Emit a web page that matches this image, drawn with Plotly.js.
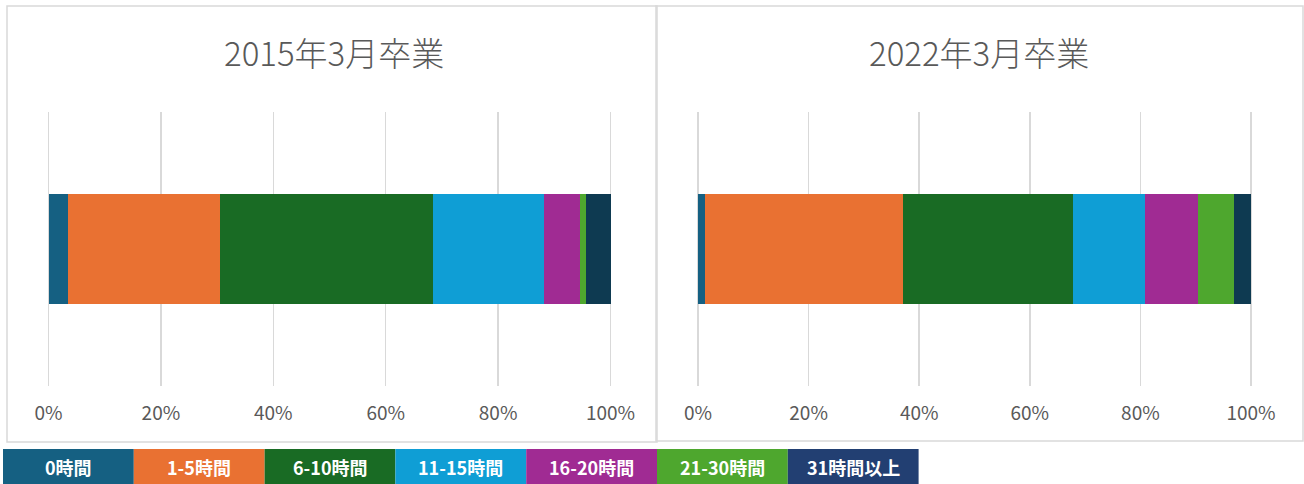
<!DOCTYPE html>
<html>
<head>
<meta charset="utf-8">
<script src="https://cdn.plot.ly/plotly-3.0.1.min.js"></script>
<style>
html,body{margin:0;padding:0;background:#fff;}
#chart{width:1304px;height:484px;}
</style>
</head>
<body>
<div id="chart"></div>
<script>
// ---- data ----
const categories = ["0時間", "1-5時間", "6-10時間", "11-15時間", "16-20時間", "21-30時間", "31時間以上"];
const panelTitles = ["2015年3月卒業", "2022年3月卒業"];
const values2015 = [3.4, 27.2, 37.8, 19.7, 6.4, 1.1, 4.4];
const values2022 = [1.2, 35.9, 30.8, 13.0, 9.5, 6.5, 3.1];
const tickValues = [0, 20, 40, 60, 80, 100];
const tickLabels = ["0%", "20%", "40%", "60%", "80%", "100%"];

// ---- styles ----
const barColors = ["#156082", "#E97132", "#196B24", "#0F9ED5", "#A02B93", "#4EA72E", "#0E3A51"];
const legendColors = ["#156082", "#E97132", "#196B24", "#0F9ED5", "#A02B93", "#4EA72E", "#223F72"];
const W = 1304, H = 484;
const px = v => v / W;
const py = v => 1 - v / H;

const traces = [];
[values2015, values2022].forEach((vals, pi) => {
  categories.forEach((c, i) => {
    traces.push({
      type: "bar",
      orientation: "h",
      name: c,
      x: [vals[i]],
      y: [0],
      width: 0.4,
      marker: {color: barColors[i], line: {width: 0}},
      xaxis: pi === 0 ? "x" : "x2",
      yaxis: pi === 0 ? "y" : "y2",
      showlegend: false,
      hoverinfo: "name+x"
    });
  });
});

const pad = 0.5; // small range padding so the 0% and 100% gridlines are drawn
const axisCommon = {
  range: [-pad, 100 + pad],
  tickvals: tickValues,
  ticktext: tickLabels,
  showgrid: true,
  gridcolor: "#d9d9d9",
  gridwidth: 1.5,
  zeroline: false,
  showline: false,
  ticks: "",
  ticklabelstandoff: 14,
  tickfont: {family: "Liberation Sans Narrow, Noto Sans CJK JP, sans-serif", size: 19, color: "#595959"},
  fixedrange: true
};
const yCommon = {range: [-0.5, 0.5], visible: false, showgrid: false, zeroline: false, fixedrange: true};

function dom(a, b) { // pixel positions of 0% and 100%
  const k = (b - a) / 100;
  return [px(a - pad * k), px(b + pad * k)];
}

const plotTop = 112, plotBottom = 386;
const layout = {
  width: W, height: H,
  margin: {l: 0, r: 0, t: 0, b: 0},
  paper_bgcolor: "#ffffff",
  plot_bgcolor: "rgba(0,0,0,0)",
  barmode: "stack",
  showlegend: false,
  xaxis: Object.assign({}, axisCommon, {domain: dom(48.5, 610.5), anchor: "y"}),
  yaxis: Object.assign({}, yCommon, {domain: [py(plotBottom), py(plotTop)], anchor: "x"}),
  xaxis2: Object.assign({}, axisCommon, {domain: dom(698, 1251), anchor: "y2"}),
  yaxis2: Object.assign({}, yCommon, {domain: [py(plotBottom), py(plotTop)], anchor: "x2"}),
  shapes: [],
  annotations: []
};

// panel borders
const panels = [[7, 6, 657, 442], [656, 6, 1303, 441]];
panels.forEach(p => {
  layout.shapes.push({
    type: "rect", xref: "paper", yref: "paper", layer: "below",
    x0: px(p[0]), x1: px(p[2]), y0: py(p[3]), y1: py(p[1]),
    line: {color: "#d9d9d9", width: 1.5}, fillcolor: "rgba(0,0,0,0)"
  });
});

// panel titles
const titleCenters = [334, 979];
panelTitles.forEach((t, i) => {
  layout.annotations.push({
    text: t, xref: "paper", yref: "paper",
    x: px(titleCenters[i]), y: py(52), xanchor: "center", yanchor: "middle",
    showarrow: false,
    font: {family: "Noto Sans CJK JP, sans-serif", size: 33, weight: 300, color: "#595959"}
  });
});

// legend boxes (drawn as a row of coloured cells)
const legLeft = 3, legW = 130.8, legTop = 449, legBottom = 484;
categories.forEach((c, i) => {
  const x0 = legLeft + i * legW, x1 = x0 + legW;
  layout.shapes.push({
    type: "rect", xref: "paper", yref: "paper",
    x0: px(x0), x1: px(x1), y0: py(legBottom), y1: py(legTop),
    line: {width: 0}, fillcolor: legendColors[i]
  });
  layout.annotations.push({
    text: "<b>" + c + "</b>", xref: "paper", yref: "paper",
    x: px((x0 + x1) / 2), y: py((legTop + legBottom) / 2),
    xanchor: "center", yanchor: "middle", showarrow: false,
    font: {family: "Noto Sans CJK JP, sans-serif", size: 18, color: "#ffffff"}
  });
});

Plotly.newPlot("chart", traces, layout, {staticPlot: true, displayModeBar: false});
</script>
</body>
</html>
